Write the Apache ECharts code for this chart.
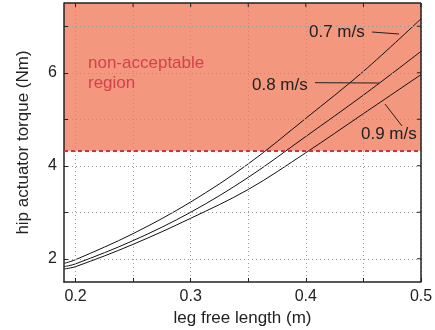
<!DOCTYPE html>
<html>
<head>
<meta charset="utf-8">
<script src="https://cdn.jsdelivr.net/npm/echarts@6/dist/echarts.min.js"></script>
<style>
  html, body { margin: 0; padding: 0; background: #fff; }
  #chart { width: 435px; height: 330px; }
</style>
</head>
<body>
<div id="chart"></div>
<script>
// leg free length (m) vs hip actuator torque (Nm), one line per speed
const lengths = [0.19, 0.2, 0.25, 0.3, 0.35, 0.4, 0.45, 0.5];
const torque07 = [1.90, 1.98, 2.54, 3.22, 4.04, 5.02, 6.03, 7.16];
const torque08 = [1.83, 1.89, 2.39, 3.00, 3.75, 4.63, 5.52, 6.46];
const torque09 = [1.78, 1.83, 2.31, 2.87, 3.49, 4.28, 5.12, 5.96];

const xTicks = [0.2, 0.25, 0.3, 0.35, 0.4, 0.45, 0.5];
const xLabels = [0.2, 0.3, 0.4, 0.5];
const yTicks = [2, 3, 4, 5, 6, 7];
const yLabels = [2, 4, 6];

const xMin = 0.19, xMax = 0.5;
const yMin = 1.5, yMax = 7.5;
const torqueLimit = 4.32;

const font = 'Liberation Sans, Arial, sans-serif';
const ink = '#222';
const box = { left: 64, right: 14, top: 3, bottom: 48 };
const plotW = 435 - box.left - box.right;
const plotH = 330 - box.top - box.bottom;
const plotR = box.left + plotW;

const chart = echarts.init(document.getElementById('chart'));

function pairs(ys) {
    return lengths.map((x, i) => [x, ys[i]]);
}

function speedLine(name, ys) {
    return {
        name: name,
        type: 'line',
        data: pairs(ys),
        smooth: 0.35,
        symbol: 'none',
        z: 3,
        lineStyle: { color: '#111', width: 1 }
    };
}

const gridDots = { color: '#999', type: [1, 3], width: 1 };

// top and right edges of the box, with inward ticks, as plain graphic lines
const frame = [
    { type: 'line', z: 10, shape: { x1: box.left, y1: box.top, x2: plotR, y2: box.top }, style: { stroke: ink, lineWidth: 1.5 } },
    { type: 'line', z: 10, shape: { x1: plotR, y1: box.top, x2: plotR, y2: box.top + plotH }, style: { stroke: ink, lineWidth: 1.5 } }
];
xTicks.forEach((v) => {
    const px = box.left + (v - xMin) / (xMax - xMin) * plotW;
    frame.push({ type: 'line', z: 10, shape: { x1: px, y1: box.top, x2: px, y2: box.top + 4 }, style: { stroke: ink, lineWidth: 1 } });
});
yTicks.forEach((v) => {
    const py = box.top + (yMax - v) / (yMax - yMin) * plotH;
    frame.push({ type: 'line', z: 10, shape: { x1: plotR - 4, y1: py, x2: plotR, y2: py }, style: { stroke: ink, lineWidth: 1 } });
});

const notes = [
    { type: 'text', x: 88, y: 53, z: 10, style: { text: 'non-acceptable\nregion', fill: '#d4414c', fontSize: 17, fontFamily: font, lineHeight: 20 } },
    { type: 'text', x: 309, y: 24, z: 10, style: { text: '0.7 m/s', fill: ink, fontSize: 17, fontFamily: font } },
    { type: 'line', z: 10, shape: { x1: 372, y1: 32, x2: 399, y2: 34 }, style: { stroke: ink, lineWidth: 1 } },
    { type: 'text', x: 252, y: 77, z: 10, style: { text: '0.8 m/s', fill: ink, fontSize: 17, fontFamily: font } },
    { type: 'line', z: 10, shape: { x1: 315, y1: 82.7, x2: 379, y2: 83 }, style: { stroke: ink, lineWidth: 1 } },
    { type: 'text', x: 361, y: 126, z: 10, style: { text: '0.9 m/s', fill: ink, fontSize: 17, fontFamily: font } },
    { type: 'line', z: 10, shape: { x1: 385, y1: 104, x2: 402, y2: 126 }, style: { stroke: ink, lineWidth: 1 } }
];

chart.setOption({
    animation: false,
    grid: { left: box.left, right: box.right, top: box.top, bottom: box.bottom, outerBoundsMode: 'none' },
    xAxis: {
        type: 'value',
        min: xMin,
        max: xMax,
        z: 4,
        axisLine: { show: true, onZero: false, lineStyle: { color: ink, width: 1.5 } },
        axisTick: { show: true, inside: true, length: 4, customValues: xTicks, lineStyle: { color: ink } },
        axisLabel: {
            customValues: xLabels,
            margin: 7,
            color: ink,
            fontSize: 16,
            fontFamily: font,
            formatter: (v) => v.toFixed(1)
        },
        splitLine: { show: true, lineStyle: gridDots },
        name: 'leg free length (m)',
        nameLocation: 'middle',
        nameGap: 27,
        nameTextStyle: { color: ink, fontSize: 17, fontFamily: font }
    },
    yAxis: {
        type: 'value',
        min: yMin,
        max: yMax,
        z: 4,
        axisLine: { show: true, onZero: false, lineStyle: { color: ink, width: 1.5 } },
        axisTick: { show: true, inside: true, length: 4, customValues: yTicks, lineStyle: { color: ink } },
        axisLabel: {
            customValues: yLabels,
            margin: 7,
            color: ink,
            fontSize: 16,
            fontFamily: font
        },
        splitLine: { show: true, lineStyle: gridDots },
        name: 'hip actuator torque (Nm)',
        nameLocation: 'middle',
        nameGap: 32,
        nameTextStyle: { color: ink, fontSize: 17, fontFamily: font }
    },
    series: [
        {
            // shaded non-acceptable region and its limit line
            name: 'limit',
            type: 'line',
            data: [],
            z: 1,
            markArea: {
                silent: true,
                itemStyle: { color: '#f4977f' },
                data: [[{ yAxis: torqueLimit }, { yAxis: yMax }]]
            },
            markLine: {
                silent: true,
                symbol: 'none',
                label: { show: false },
                lineStyle: { color: '#d8303a', type: [4, 3], width: 2 },
                data: [{ yAxis: torqueLimit }]
            }
        },
        speedLine('0.7 m/s', torque07),
        speedLine('0.8 m/s', torque08),
        speedLine('0.9 m/s', torque09)
    ],
    graphic: { elements: notes.concat(frame) }
});
</script>
</body>
</html>
